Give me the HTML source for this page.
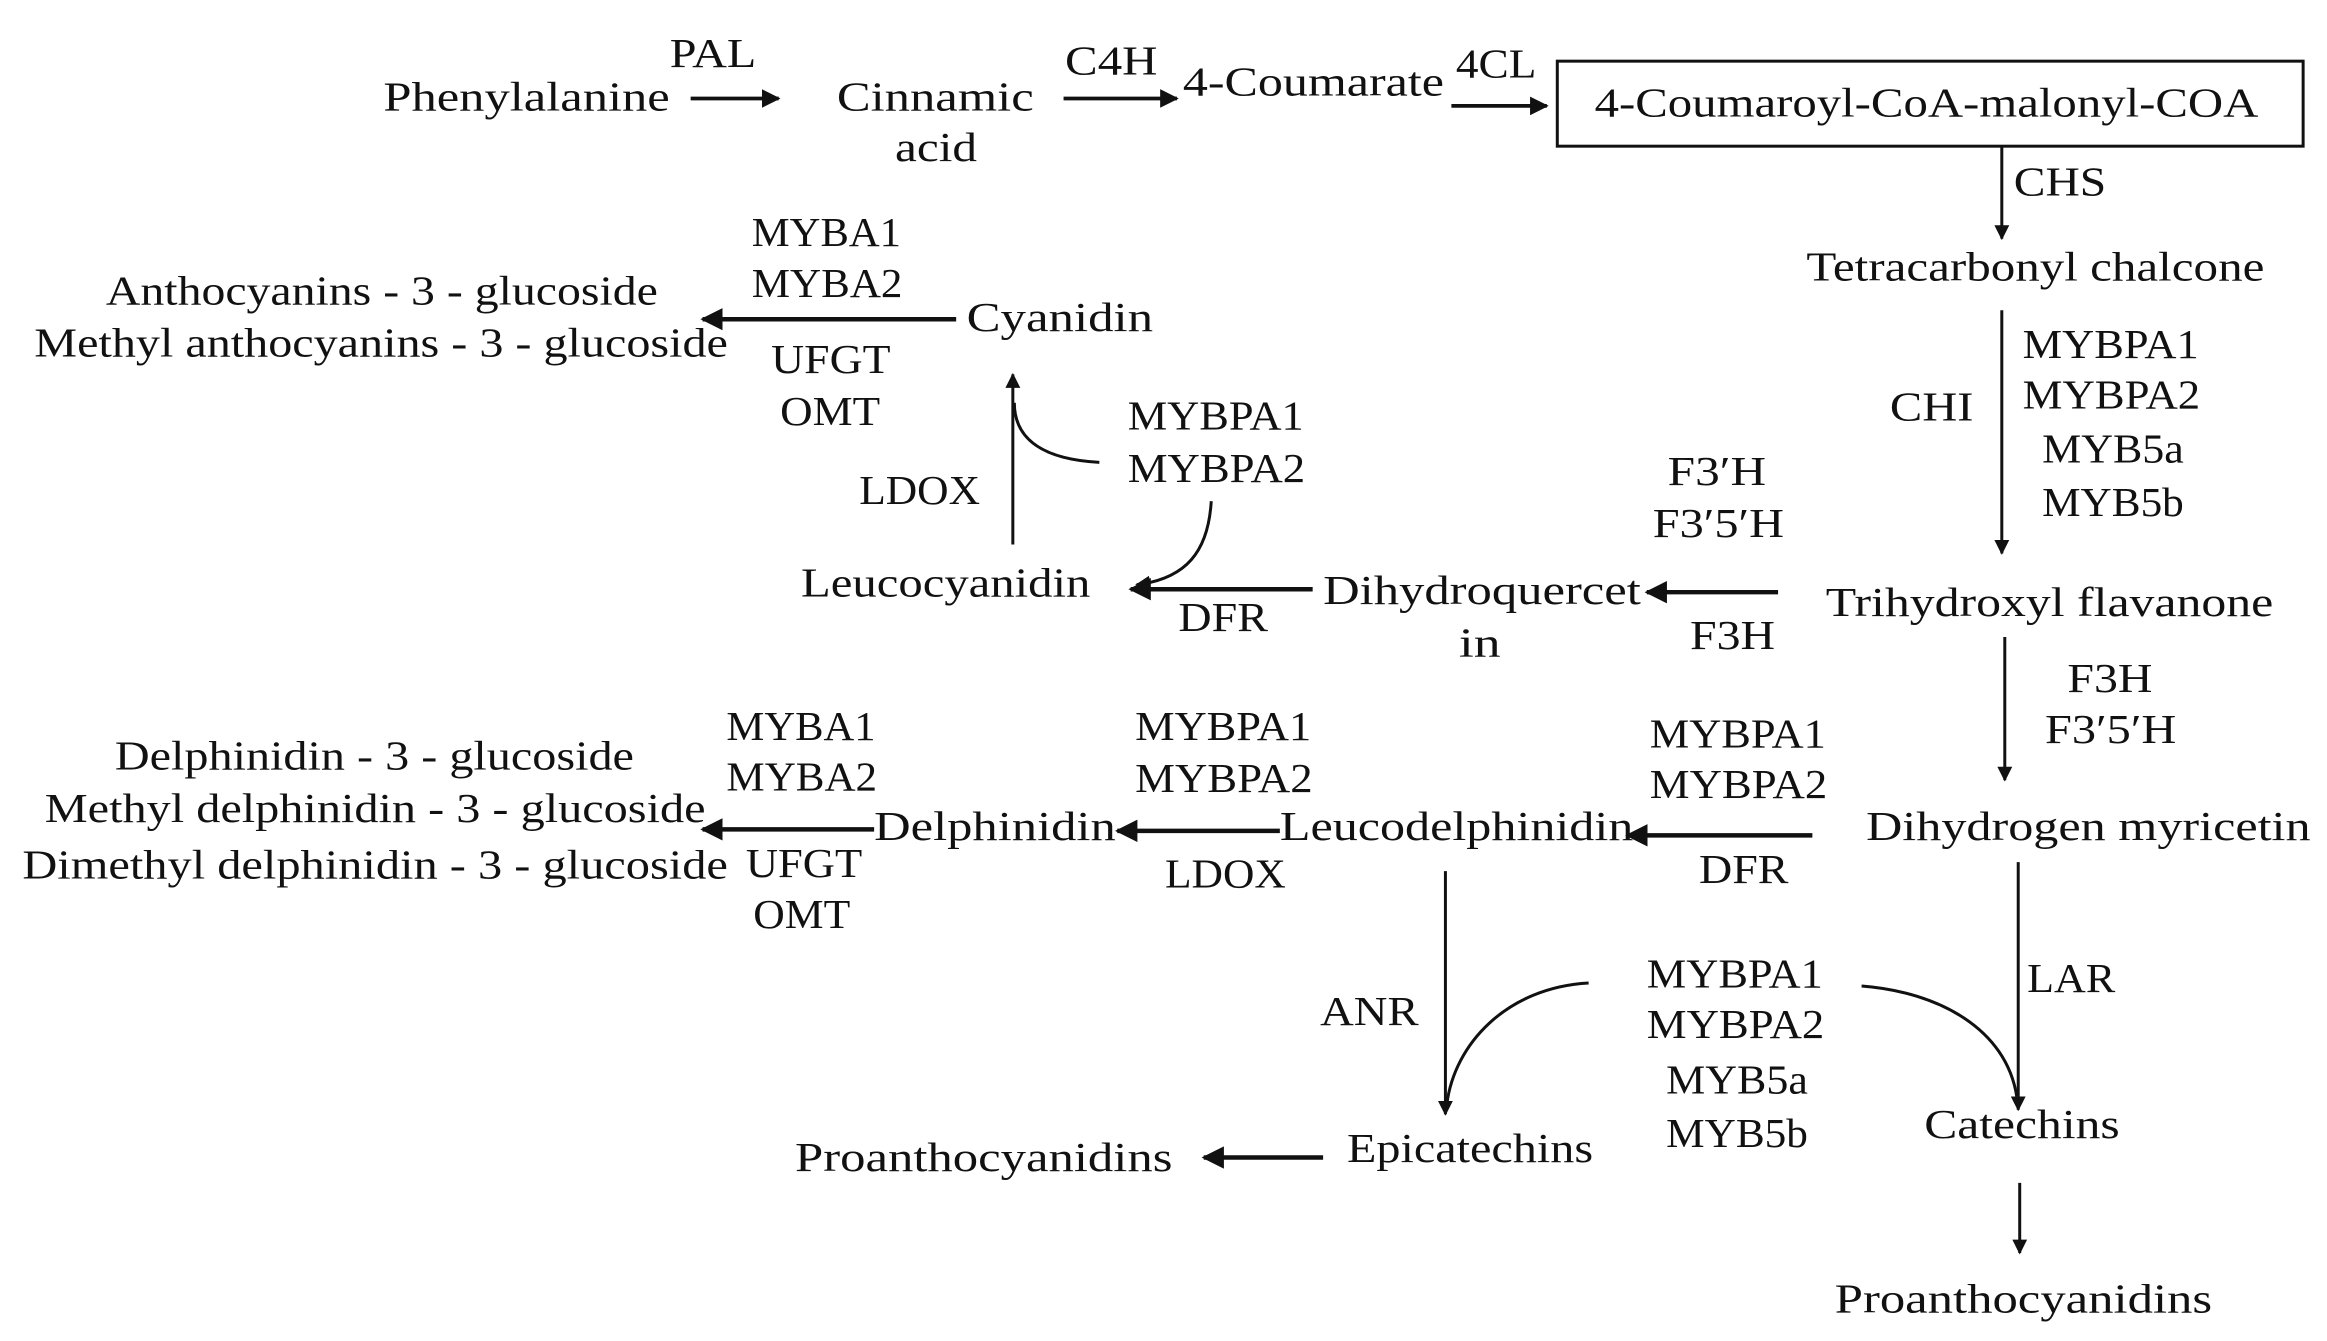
<!DOCTYPE html>
<html><head><meta charset="utf-8"><style>
html,body{margin:0;padding:0;background:#fff;width:2327px;height:1341px;overflow:hidden}
svg{display:block}
text{font-family:"Liberation Serif",serif;font-size:28px;fill:#111}
</style></head><body>
<svg width="2327" height="1341" viewBox="0 0 1560 899" xmlns="http://www.w3.org/2000/svg">
<defs>
<marker id="a" viewBox="0 0 10 10" refX="9" refY="5" markerWidth="5" markerHeight="5" orient="auto-start-reverse"><path d="M0,0 L10,5 L0,10 z" fill="#111"/></marker>
</defs>
<g stroke="#111" stroke-width="2" fill="none">
<line x1="463" y1="66" x2="522" y2="66" stroke-width="2.5" marker-end="url(#a)"/>
<line x1="713" y1="66" x2="789" y2="66" stroke-width="2.5" marker-end="url(#a)"/>
<line x1="973" y1="71" x2="1037" y2="71" stroke-width="2.5" marker-end="url(#a)"/>
<rect x="1044" y="41" width="500" height="57"/>
<line x1="1342" y1="98" x2="1342" y2="160" marker-end="url(#a)"/>
<line x1="1342" y1="208" x2="1342" y2="371" marker-end="url(#a)"/>
<line x1="1192" y1="397" x2="1104" y2="397" stroke-width="3" marker-end="url(#a)"/>
<line x1="880" y1="395" x2="758" y2="395" stroke-width="3" marker-end="url(#a)"/>
<line x1="679" y1="365" x2="679" y2="251" marker-end="url(#a)"/>
<path d="M737,310 C700,308 680,295 680,270"/>
<path d="M812,336 C810,370 795,388 762,392" marker-end="url(#a)"/>
<line x1="641" y1="214" x2="471" y2="214" stroke-width="3" marker-end="url(#a)"/>
<line x1="1344" y1="427" x2="1344" y2="523" marker-end="url(#a)"/>
<line x1="1215" y1="560" x2="1091" y2="560" stroke-width="3" marker-end="url(#a)"/>
<line x1="858" y1="557" x2="749" y2="557" stroke-width="3" marker-end="url(#a)"/>
<line x1="586" y1="556" x2="471" y2="556" stroke-width="3" marker-end="url(#a)"/>
<line x1="969" y1="584" x2="969" y2="747" marker-end="url(#a)"/>
<path d="M1065,659 C1010,662 975,700 970,740"/>
<path d="M1248,661 C1300,665 1345,690 1352,735"/>
<line x1="1353" y1="578" x2="1353" y2="744" marker-end="url(#a)"/>
<line x1="887" y1="776" x2="807" y2="776" stroke-width="3" marker-end="url(#a)"/>
<line x1="1354" y1="793" x2="1354" y2="840" marker-end="url(#a)"/>
</g>
<g lengthAdjust="spacingAndGlyphs">
<text x="449" y="45" textLength="58" lengthAdjust="spacingAndGlyphs">PAL</text>
<text x="257" y="74" textLength="192" lengthAdjust="spacingAndGlyphs">Phenylalanine</text>
<text x="561" y="74" textLength="132" lengthAdjust="spacingAndGlyphs">Cinnamic</text>
<text x="600" y="108" textLength="55" lengthAdjust="spacingAndGlyphs">acid</text>
<text x="714" y="50" textLength="62" lengthAdjust="spacingAndGlyphs">C4H</text>
<text x="793" y="64" textLength="175" lengthAdjust="spacingAndGlyphs">4-Coumarate</text>
<text x="976" y="52" textLength="54" lengthAdjust="spacingAndGlyphs">4CL</text>
<text x="1069" y="78" textLength="445" lengthAdjust="spacingAndGlyphs">4-Coumaroyl-CoA-malonyl-COA</text>
<text x="1350" y="131" textLength="62" lengthAdjust="spacingAndGlyphs">CHS</text>
<text x="1211" y="188" textLength="307" lengthAdjust="spacingAndGlyphs">Tetracarbonyl chalcone</text>
<text x="1267" y="282" textLength="56" lengthAdjust="spacingAndGlyphs">CHI</text>
<text x="1356" y="240" textLength="118" lengthAdjust="spacingAndGlyphs">MYBPA1</text>
<text x="1356" y="274" textLength="119" lengthAdjust="spacingAndGlyphs">MYBPA2</text>
<text x="1369" y="310" textLength="95" lengthAdjust="spacingAndGlyphs">MYB5a</text>
<text x="1369" y="346" textLength="95" lengthAdjust="spacingAndGlyphs">MYB5b</text>
<text x="1224" y="413" textLength="300" lengthAdjust="spacingAndGlyphs">Trihydroxyl flavanone</text>
<text x="1133" y="435" textLength="57" lengthAdjust="spacingAndGlyphs">F3H</text>
<text x="1118" y="325" textLength="66" lengthAdjust="spacingAndGlyphs">F3′H</text>
<text x="1108" y="360" textLength="88" lengthAdjust="spacingAndGlyphs">F3′5′H</text>
<text x="887" y="405" textLength="213" lengthAdjust="spacingAndGlyphs">Dihydroquercet</text>
<text x="978" y="440" textLength="28" lengthAdjust="spacingAndGlyphs">in</text>
<text x="790" y="423" textLength="60" lengthAdjust="spacingAndGlyphs">DFR</text>
<text x="537" y="400" textLength="194" lengthAdjust="spacingAndGlyphs">Leucocyanidin</text>
<text x="576" y="338" textLength="81" lengthAdjust="spacingAndGlyphs">LDOX</text>
<text x="756" y="288" textLength="118" lengthAdjust="spacingAndGlyphs">MYBPA1</text>
<text x="756" y="323" textLength="119" lengthAdjust="spacingAndGlyphs">MYBPA2</text>
<text x="648" y="222" textLength="125" lengthAdjust="spacingAndGlyphs">Cyanidin</text>
<text x="504" y="165" textLength="100" lengthAdjust="spacingAndGlyphs">MYBA1</text>
<text x="504" y="199" textLength="101" lengthAdjust="spacingAndGlyphs">MYBA2</text>
<text x="517" y="250" textLength="80" lengthAdjust="spacingAndGlyphs">UFGT</text>
<text x="523" y="285" textLength="67" lengthAdjust="spacingAndGlyphs">OMT</text>
<text x="71" y="204" textLength="370" lengthAdjust="spacingAndGlyphs">Anthocyanins - 3 - glucoside</text>
<text x="23" y="239" textLength="465" lengthAdjust="spacingAndGlyphs">Methyl anthocyanins - 3 - glucoside</text>
<text x="1386" y="464" textLength="57" lengthAdjust="spacingAndGlyphs">F3H</text>
<text x="1371" y="498" textLength="88" lengthAdjust="spacingAndGlyphs">F3′5′H</text>
<text x="1251" y="563" textLength="298" lengthAdjust="spacingAndGlyphs">Dihydrogen myricetin</text>
<text x="1106" y="501" textLength="118" lengthAdjust="spacingAndGlyphs">MYBPA1</text>
<text x="1106" y="535" textLength="119" lengthAdjust="spacingAndGlyphs">MYBPA2</text>
<text x="1139" y="592" textLength="60" lengthAdjust="spacingAndGlyphs">DFR</text>
<text x="858" y="563" textLength="237" lengthAdjust="spacingAndGlyphs">Leucodelphinidin</text>
<text x="761" y="496" textLength="118" lengthAdjust="spacingAndGlyphs">MYBPA1</text>
<text x="761" y="531" textLength="119" lengthAdjust="spacingAndGlyphs">MYBPA2</text>
<text x="781" y="595" textLength="81" lengthAdjust="spacingAndGlyphs">LDOX</text>
<text x="586" y="563" textLength="162" lengthAdjust="spacingAndGlyphs">Delphinidin</text>
<text x="487" y="496" textLength="100" lengthAdjust="spacingAndGlyphs">MYBA1</text>
<text x="487" y="530" textLength="101" lengthAdjust="spacingAndGlyphs">MYBA2</text>
<text x="500" y="588" textLength="78" lengthAdjust="spacingAndGlyphs">UFGT</text>
<text x="505" y="622" textLength="65" lengthAdjust="spacingAndGlyphs">OMT</text>
<text x="77" y="516" textLength="348" lengthAdjust="spacingAndGlyphs">Delphinidin - 3 - glucoside</text>
<text x="30" y="551" textLength="443" lengthAdjust="spacingAndGlyphs">Methyl delphinidin - 3 - glucoside</text>
<text x="15" y="589" textLength="473" lengthAdjust="spacingAndGlyphs">Dimethyl delphinidin - 3 - glucoside</text>
<text x="885" y="687" textLength="66" lengthAdjust="spacingAndGlyphs">ANR</text>
<text x="1104" y="662" textLength="118" lengthAdjust="spacingAndGlyphs">MYBPA1</text>
<text x="1104" y="696" textLength="119" lengthAdjust="spacingAndGlyphs">MYBPA2</text>
<text x="1117" y="733" textLength="95" lengthAdjust="spacingAndGlyphs">MYB5a</text>
<text x="1117" y="769" textLength="95" lengthAdjust="spacingAndGlyphs">MYB5b</text>
<text x="1359" y="665" textLength="59" lengthAdjust="spacingAndGlyphs">LAR</text>
<text x="903" y="779" textLength="165" lengthAdjust="spacingAndGlyphs">Epicatechins</text>
<text x="533" y="785" textLength="253" lengthAdjust="spacingAndGlyphs">Proanthocyanidins</text>
<text x="1290" y="763" textLength="131" lengthAdjust="spacingAndGlyphs">Catechins</text>
<text x="1230" y="880" textLength="253" lengthAdjust="spacingAndGlyphs">Proanthocyanidins</text>
</g>
</svg>
</body></html>
